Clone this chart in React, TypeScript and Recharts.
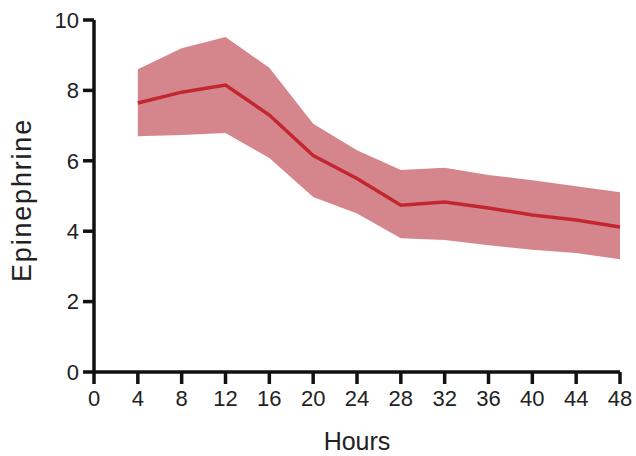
import React from "react";
import { ComposedChart, Area, Line, XAxis, YAxis } from "recharts";

const hours = [4, 8, 12, 16, 20, 24, 28, 32, 36, 40, 44, 48];
const meanValues = [7.64, 7.95, 8.15, 7.3, 6.15, 5.5, 4.74, 4.83, 4.66, 4.46, 4.32, 4.12];
const upperValues = [8.6, 9.2, 9.52, 8.64, 7.05, 6.3, 5.74, 5.8, 5.6, 5.45, 5.28, 5.11];
const lowerValues = [6.7, 6.73, 6.79, 6.08, 4.97, 4.5, 3.8, 3.75, 3.6, 3.47, 3.38, 3.2];
const xTicks = [0, 4, 8, 12, 16, 20, 24, 28, 32, 36, 40, 44, 48];
const yTicks = [0, 2, 4, 6, 8, 10];

const data = hours.map((h, i) => ({
  hour: h,
  mean: meanValues[i],
  band: [lowerValues[i], upperValues[i]],
}));

const font = "Liberation Sans, Arial, Helvetica, sans-serif";

const YLabel = (props: any) => {
  const vb = props.viewBox || { x: 0, y: 0, width: 94, height: 352 };
  const x = vb.x + 31;
  const y = vb.y + vb.height / 2 + 4;
  return (
    <text
      x={x}
      y={y}
      transform={`rotate(-90, ${x}, ${y})`}
      textAnchor="middle"
      fill="#222"
      fontSize={27}
      fontFamily={font}
      letterSpacing={1.8}
    >
      Epinephrine
    </text>
  );
};

export default function App() {
  return (
    <div style={{ position: "absolute", left: 0, top: 0, background: "#fff" }}>
      <ComposedChart
        width={636}
        height={456}
        data={data}
        margin={{ top: 20, right: 16, bottom: 0, left: 0 }}
      >
        <XAxis
          dataKey="hour"
          type="number"
          domain={[0, 48]}
          ticks={xTicks}
          interval={0}
          height={84}
          axisLine={{ stroke: "#111", strokeWidth: 3.5 }}
          tickLine={{ stroke: "#111", strokeWidth: 3.5 }}
          tickSize={12}
          tickMargin={6}
          tick={{ fill: "#222", fontSize: 22, fontFamily: font }}
          label={{
            value: "Hours",
            position: "insideBottom",
            offset: 6,
            fill: "#222",
            fontSize: 25,
            fontFamily: font,
          }}
        />
        <YAxis
          type="number"
          domain={[0, 10]}
          ticks={yTicks}
          interval={0}
          width={94}
          axisLine={{ stroke: "#111", strokeWidth: 3.5 }}
          tickLine={{ stroke: "#111", strokeWidth: 3.5 }}
          tickSize={11}
          tickMargin={4}
          tick={{ fill: "#222", fontSize: 22, fontFamily: font }}
          label={<YLabel />}
        />
        <Area
          dataKey="band"
          type="linear"
          stroke="none"
          fill="#d4868c"
          fillOpacity={1}
          isAnimationActive={false}
        />
        <Line
          dataKey="mean"
          type="linear"
          stroke="#c3262f"
          strokeWidth={3.5}
          dot={false}
          isAnimationActive={false}
        />
      </ComposedChart>
    </div>
  );
}
